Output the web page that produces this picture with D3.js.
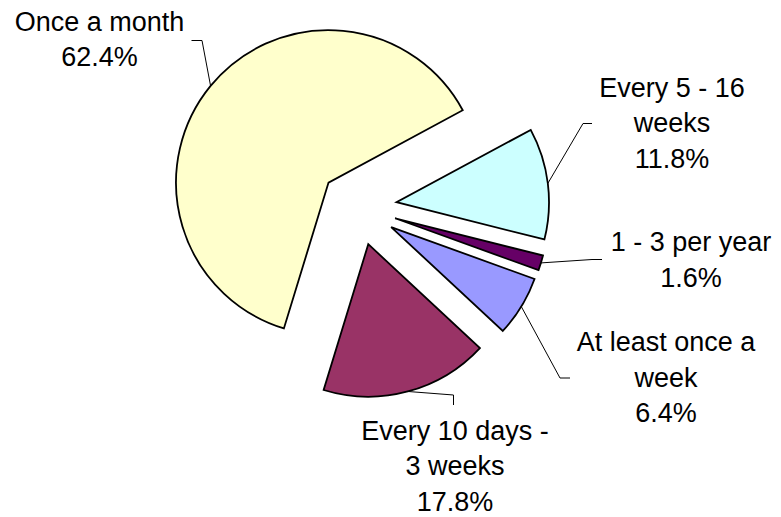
<!doctype html>
<html lang="en">
  <head>
    <meta charset="utf-8">
    <title>Frequency pie</title>
    <style>
      * {
        margin: 0;
        border: 0;
        padding: 0;
      }

      body {
        background-color: #fff;
      }

      svg {
        display: block;
      }

      text {
        font-family: 'Liberation Sans', Arial, sans-serif;
        font-size: 27px;
        fill: #000;
      }

      path.slice {
        stroke: #000;
        stroke-width: 1.8px;
        stroke-linejoin: miter;
      }

      polyline.leader {
        fill: none;
        stroke: #000;
        stroke-width: 1px;
      }
    </style>
  </head>
  <body>
    <div id="plot"></div>

<script src="https://cdn.jsdelivr.net/npm/d3@7"></script>
<script>

  // categories in series order (Excel starts the first slice at ~110 deg)
  var categories = ["At least once a week", "Every 10 days - 3 weeks", "Once a month", "Every 5 - 16 weeks", "1 - 3 per year"];
  var percents   = [6.4, 17.8, 62.4, 11.8, 1.6];
  var colors     = ["#9999ff", "#993366", "#ffffcc", "#ccffff", "#660066"];

  var width  = 781;
  var height = 517;

  var cx = 358.3, cy = 207;
  var radius  = 152.5;
  var explode = 38.5;
  var firstAngle = 109.9 * Math.PI / 180;

  // where each label sits (centre x, first baseline) and the leader elbow / end
  var labelLayout = [
    {x: 666,   y: 351,   elbow: [560, 378],   end: [570, 378]},
    {x: 455,   y: 439.5, elbow: [453.5, 395], end: [453.5, 405]},
    {x: 99.5,  y: 30.5,  elbow: [202, 40.5],  end: [191.5, 40.5]},
    {x: 672,   y: 96.5,  elbow: [583, 123.5], end: [592, 123.5]},
    {x: 691,   y: 251,   elbow: [592, 259.5], end: [602, 259.5]}
  ];
  var lineHeight = 35.5;
  var wrapWidth  = 210;

  var data = categories.map((c, i) => ({name: c, value: percents[i], color: colors[i], layout: labelLayout[i]}));

  var pie = d3.pie().sort(null).value(d => d.value)
    .startAngle(firstAngle).endAngle(firstAngle + 2 * Math.PI);
  var arc = d3.arc().innerRadius(0).outerRadius(radius);

  var svg = d3.select("#plot").append("svg").attr("width", width).attr("height", height);
  var g = svg.append("g").attr("transform", "translate(" + cx + "," + cy + ")");

  var arcs = pie(data);

  function mid(d) { return (d.startAngle + d.endAngle) / 2; }
  function offset(d, r) { var a = mid(d); return [Math.sin(a) * r, -Math.cos(a) * r]; }

  g.selectAll("path.slice")
    .data(arcs)
    .enter().append("path")
    .attr("class", "slice")
    .attr("transform", d => "translate(" + offset(d, explode) + ")")
    .style("fill", d => d.data.color)
    .attr("d", arc);

  // leader lines: from the arc edge on the bisector to the label
  svg.selectAll("polyline.leader")
    .data(arcs)
    .enter().append("polyline")
    .attr("class", "leader")
    .attr("points", d => {
      var p = offset(d, explode + radius);
      var L = d.data.layout;
      return [[cx + p[0], cy + p[1]], L.elbow, L.end].map(q => q.join(",")).join(" ");
    });

  // labels, wrapped the way Excel wraps them
  var labels = svg.selectAll("text.label")
    .data(arcs)
    .enter().append("text")
    .attr("class", "label")
    .attr("text-anchor", "middle");

  labels.each(function(d) {
    var t = d3.select(this);
    var L = d.data.layout;
    var words = d.data.name.split(" ");
    var lines = [];
    var cur = "";
    var probe = t.append("tspan");
    words.forEach(w => {
      var test = cur ? cur + " " + w : w;
      probe.text(test);
      if (cur && probe.node().getComputedTextLength() > wrapWidth) {
        lines.push(cur);
        cur = w;
      } else {
        cur = test;
      }
    });
    lines.push(cur);
    probe.remove();
    lines.push(d3.format(".1f")(d.data.value) + "%");
    lines.forEach((s, i) => {
      t.append("tspan").attr("x", L.x).attr("y", L.y + i * lineHeight).text(s);
    });
  });

</script>
  </body>
</html>
